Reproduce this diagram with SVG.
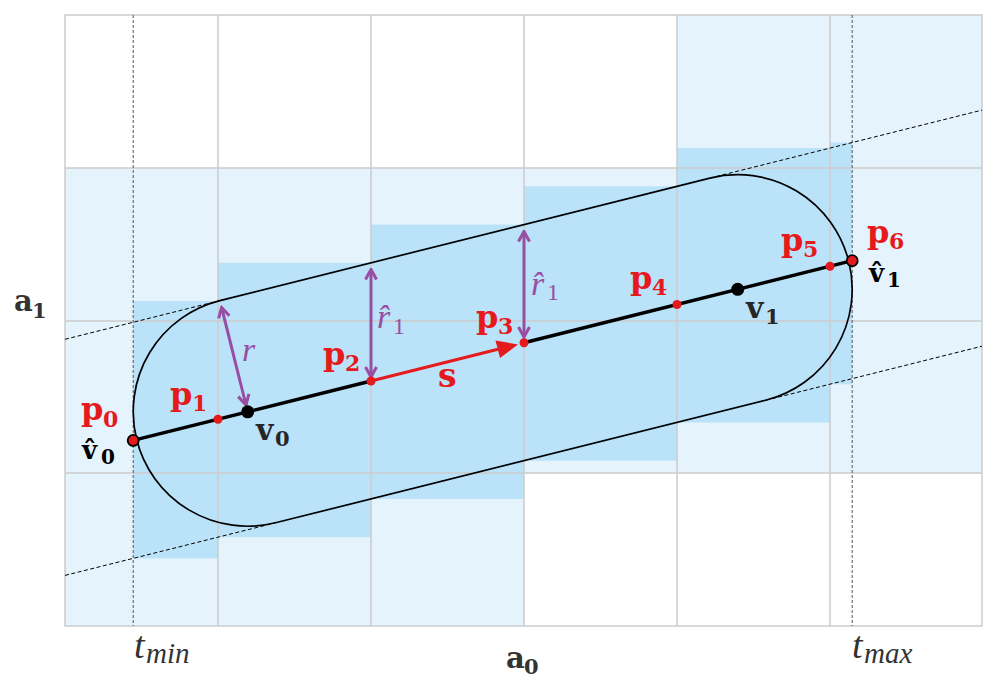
<svg xmlns="http://www.w3.org/2000/svg" width="997" height="689" viewBox="0 0 997 689">
<style>
.lb{fill:#E5F3FC}
.db{fill:#BAE2F9}
.grid{stroke:#CCCCCC;stroke-width:1.5;fill:none}
.ext{stroke:#000;stroke-width:1;stroke-dasharray:4 2.5;fill:none}
.tl{stroke:#555;stroke-width:1;stroke-dasharray:3 2;fill:none}
.bold{font-family:"DejaVu Serif","Liberation Serif",serif;font-weight:bold}
.ital{font-family:"Liberation Serif","DejaVu Serif",serif;font-style:italic}
.up{font-family:"Liberation Serif","DejaVu Serif",serif}
.red{fill:#E41A1C}
.pur{fill:#984EA3}
.prp{stroke:#984EA3;stroke-width:3;fill:none;marker-start:url(#ph);marker-end:url(#ph)}
</style>
<defs>
<marker id="ph" viewBox="-12 -7 14 14" markerWidth="14" markerHeight="14" refX="0" refY="0" orient="auto-start-reverse" markerUnits="userSpaceOnUse">
<path d="M-10,-5.5 L0,0 L-10,5.5" stroke="#984EA3" stroke-width="3" fill="none" stroke-linejoin="miter"/>
</marker>
</defs>
<g id="background">
<rect class="lb" x="677" y="15" width="305" height="153"/>
<rect class="lb" x="65" y="168" width="917" height="305"/>
<rect class="lb" x="65" y="473" width="459" height="153"/>
<rect class="db" x="133.2" y="301.1" width="84.8" height="257.2"/>
<rect class="db" x="218" y="262.8" width="153" height="274.4"/>
<rect class="db" x="371" y="224.6" width="153" height="274.3"/>
<rect class="db" x="524" y="186.3" width="153" height="274.4"/>
<rect class="db" x="677" y="148.1" width="153" height="274.3"/>
<rect class="db" x="830" y="142.6" width="22.2" height="241.7"/>
</g>
<g id="grid">
<path class="grid" d="M218,15V626M371,15V626M524,15V626M677,15V626M830,15V626M65,168H982M65,321H982M65,473H982"/>
<rect class="grid" x="65" y="15" width="917" height="611" stroke-width="2"/>
<path class="tl" d="M133.2,15V626M852.2,15V626"/>
</g>
<g id="connectors">
<path class="ext" d="M65,339.3L219.9,300.6M709.9,178.1L982,110.1M65,575.4L275.5,522.8M765.5,400.3L982,346.2"/>
<path id="capsule" d="M219.9,300.6L709.9,178.1A114.5,114.5 0 0 1 765.5,400.3L275.5,522.8A114.5,114.5 0 0 1 219.9,300.6Z" fill="none" stroke="#000" stroke-width="1.7"/>
<path d="M133.2,440.45L371,381M524,342.75L852.2,260.7" stroke="#000" stroke-width="3.4" fill="none"/>
<path d="M371,381L498,349.3" stroke="#E41A1C" stroke-width="3.2" fill="none"/>
<path d="M518,344.5L500,358L495.5,340.5Z" fill="#E41A1C"/>
<path class="prp" d="M221.6,307.4L246,405"/>
<path class="prp" d="M371,269.5L371,377"/>
<path class="prp" d="M524,231.5L524,337"/>
</g>
<g id="points">
<circle cx="133.2" cy="440.45" r="5.5" fill="#E41A1C" stroke="#000" stroke-width="1.8"/>
<circle cx="218" cy="419.25" r="4.5" fill="#E41A1C"/>
<circle cx="371" cy="381" r="4.5" fill="#E41A1C"/>
<circle cx="524" cy="342.75" r="4.5" fill="#E41A1C"/>
<circle cx="677" cy="304.5" r="4.5" fill="#E41A1C"/>
<circle cx="830" cy="266.25" r="4.5" fill="#E41A1C"/>
<circle cx="852.2" cy="260.7" r="5.5" fill="#E41A1C" stroke="#000" stroke-width="1.8"/>
<circle cx="247.7" cy="411.8" r="6.5" fill="#000"/>
<circle cx="737.7" cy="289.3" r="6.5" fill="#000"/>
</g>
<g id="labels">
<text class="bold red" font-size="32"><tspan x="81" y="420">p</tspan><tspan x="103" y="427" font-size="22">0</tspan></text>
<text class="bold red" font-size="32"><tspan x="170" y="405">p</tspan><tspan x="192" y="411" font-size="22">1</tspan></text>
<text class="bold red" font-size="32"><tspan x="323" y="365">p</tspan><tspan x="345" y="371" font-size="22">2</tspan></text>
<text class="bold red" font-size="32"><tspan x="476" y="328">p</tspan><tspan x="498" y="334" font-size="22">3</tspan></text>
<text class="bold red" font-size="32"><tspan x="630" y="289">p</tspan><tspan x="652" y="295" font-size="22">4</tspan></text>
<text class="bold red" font-size="32"><tspan x="781" y="251">p</tspan><tspan x="803" y="257" font-size="22">5</tspan></text>
<text class="bold red" font-size="32"><tspan x="867" y="243">p</tspan><tspan x="889" y="249" font-size="22">6</tspan></text>
<text class="bold" font-size="26" fill="#000"><tspan x="82" y="459">v̂</tspan><tspan x="101" y="464" font-size="20">0</tspan></text>
<text class="bold" font-size="26" fill="#000"><tspan x="869" y="282">v̂</tspan><tspan x="887" y="287" font-size="20">1</tspan></text>
<text class="bold" font-size="30" fill="#262626"><tspan x="256" y="440">v</tspan><tspan x="275" y="446" font-size="21">0</tspan></text>
<text class="bold" font-size="30" fill="#262626"><tspan x="746" y="318">v</tspan><tspan x="765" y="324" font-size="21">1</tspan></text>
<text class="bold red" font-size="33" x="438" y="387">s</text>
<text class="ital pur" font-size="34" x="242" y="361">r</text>
<text class="pur" font-size="34"><tspan class="ital" x="377" y="328">r̂</tspan><tspan class="up" x="393" y="334" font-size="24">1</tspan></text>
<text class="pur" font-size="34"><tspan class="ital" x="531" y="295">r̂</tspan><tspan class="up" x="547" y="300" font-size="24">1</tspan></text>
<text class="bold" font-size="29" fill="#333"><tspan x="14" y="311">a</tspan><tspan x="32" y="318" font-size="21">1</tspan></text>
<text class="bold" font-size="29" fill="#333"><tspan x="506" y="668">a</tspan><tspan x="524" y="674" font-size="21">0</tspan></text>
<text class="ital" font-size="38" fill="#333"><tspan x="134" y="658">t</tspan><tspan x="146" y="663" font-size="29">min</tspan></text>
<text class="ital" font-size="38" fill="#333"><tspan x="852" y="658">t</tspan><tspan x="864" y="663" font-size="29">max</tspan></text>
</g>
</svg>
